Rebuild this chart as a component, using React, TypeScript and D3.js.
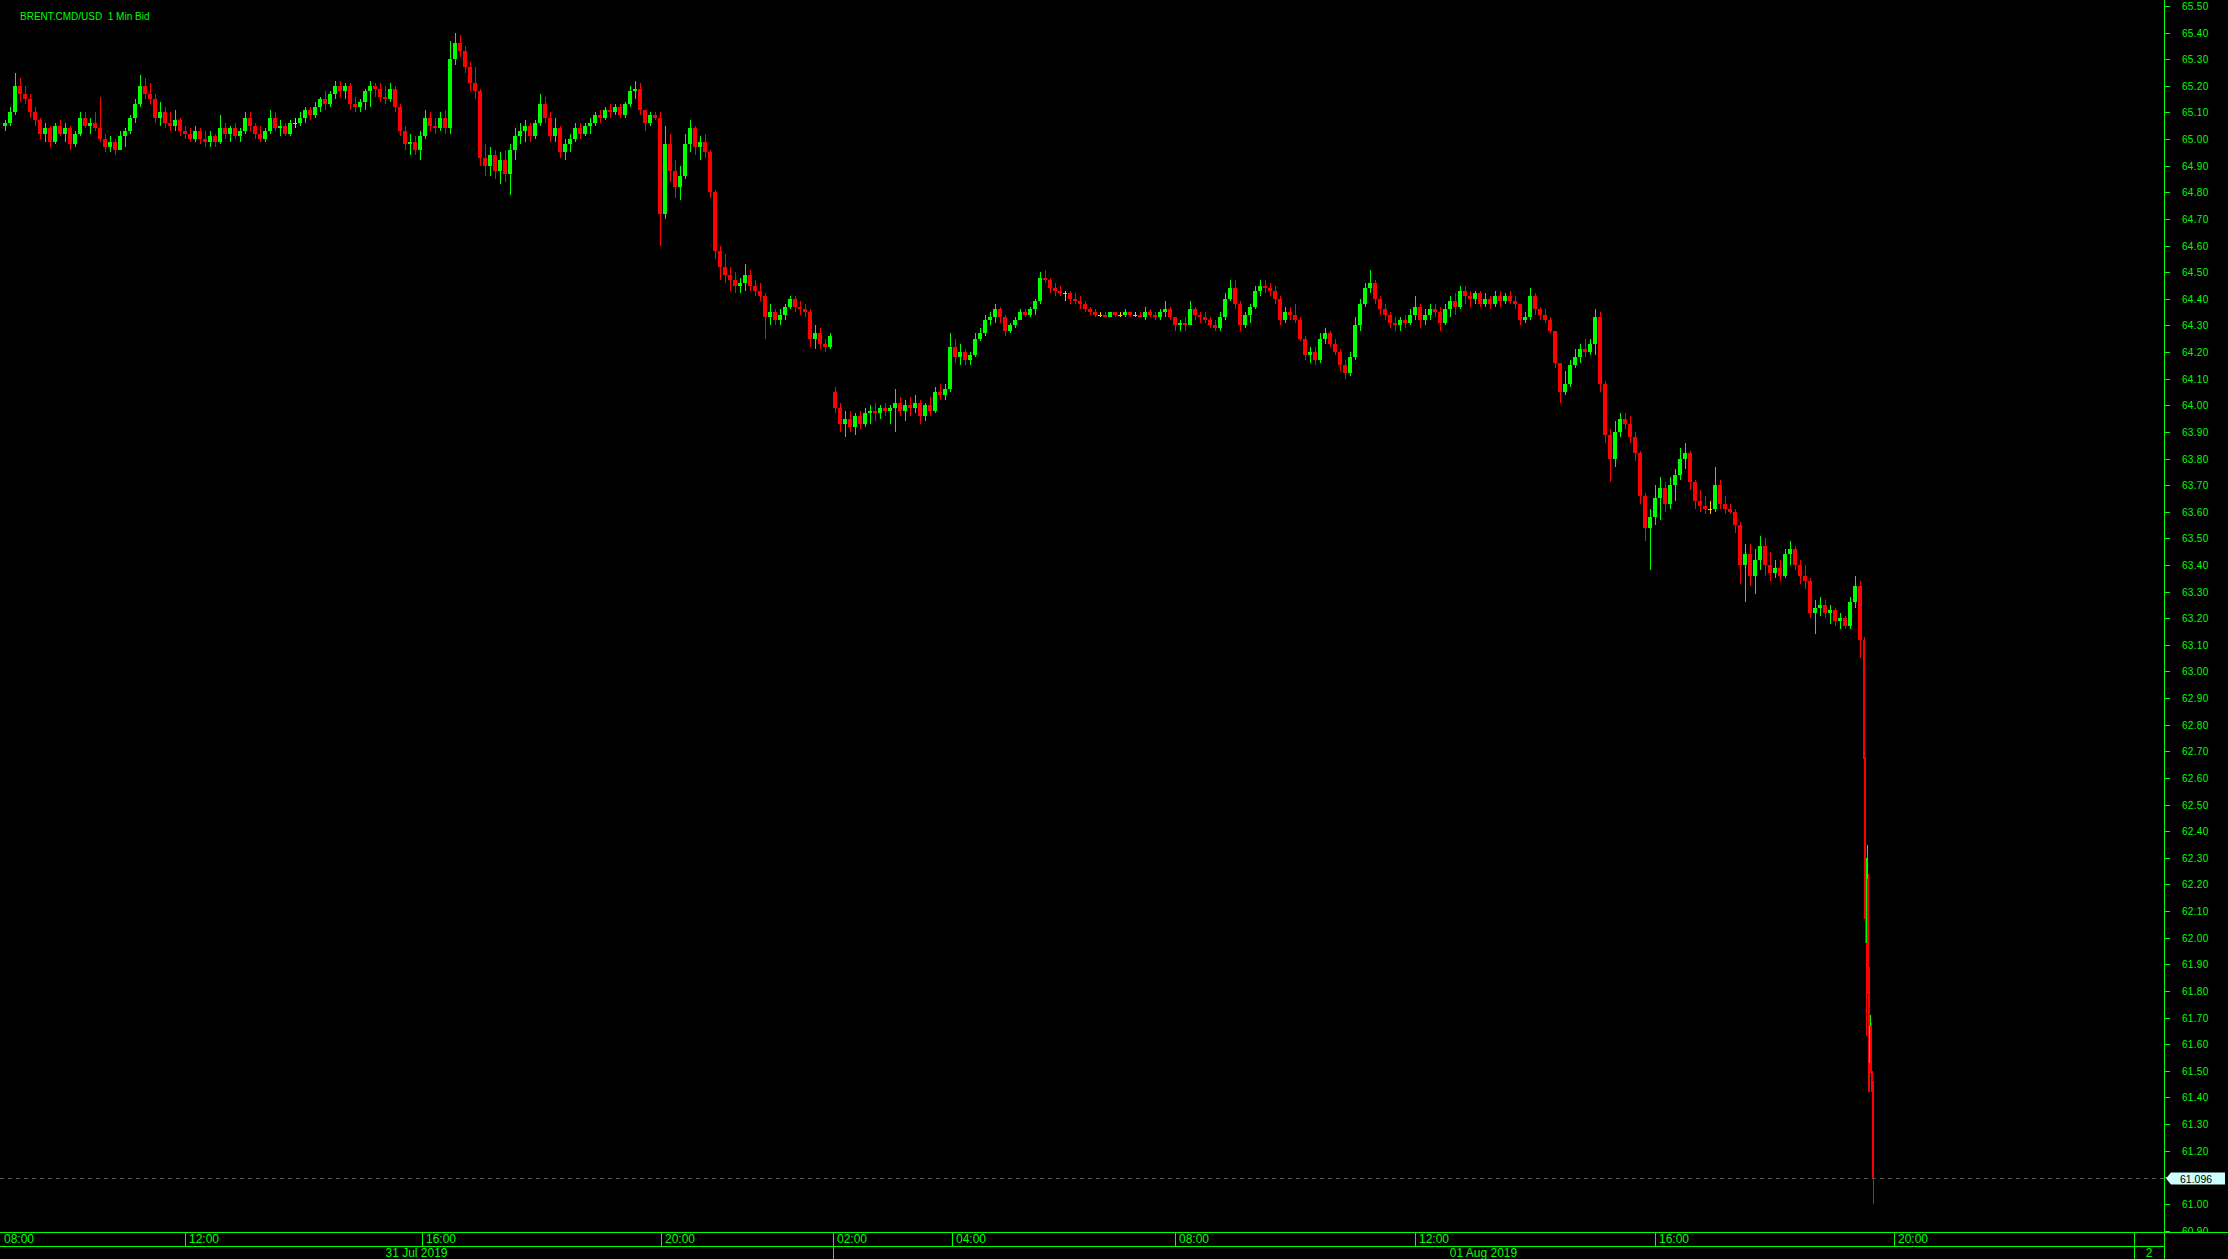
import React from 'react';
import * as d3 from 'd3';

// 1 minute = 1 slot on the x axis (closed hours collapsed)
// bars: [open, high, low, close]
type Bar = [number, number, number, number];

// 31 Jul, 5 minute bars from slot 3
const jul31Bars: Bar[] = [
  [65.05,65.07,65.03,65.06],[65.06,65.12,65.05,65.10],[65.10,65.25,65.09,65.20],[65.20,65.23,65.14,65.17],
  [65.17,65.20,65.13,65.15],[65.15,65.17,65.08,65.10],[65.10,65.12,65.05,65.07],[65.07,65.08,65.00,65.02],
  [65.02,65.06,64.99,65.04],[65.04,65.05,64.97,64.99],[64.99,65.06,64.98,65.05],[65.05,65.07,65.01,65.02],
  [65.02,65.06,64.99,65.04],[65.04,65.05,64.96,64.98],[64.98,65.03,64.97,65.02],[65.02,65.10,65.01,65.08],
  [65.08,65.10,65.04,65.05],[65.05,65.08,65.02,65.06],[65.06,65.10,65.03,65.04],[65.04,65.16,64.99,65.00],
  [65.00,65.02,64.95,64.97],[64.97,65.01,64.95,64.99],[64.99,65.00,64.94,64.96],[64.96,65.03,64.96,65.01],
  [65.01,65.04,64.97,65.03],[65.03,65.09,65.02,65.08],[65.08,65.15,65.06,65.13],[65.13,65.24,65.12,65.20],
  [65.20,65.23,65.15,65.17],[65.17,65.21,65.13,65.15],[65.15,65.17,65.06,65.08],[65.08,65.14,65.05,65.10],
  [65.10,65.12,65.04,65.06],[65.06,65.10,65.03,65.05],[65.05,65.11,65.03,65.07],[65.07,65.08,65.01,65.03],
  [65.03,65.05,65.00,65.02],[65.02,65.04,64.99,65.00],[65.00,65.05,64.99,65.03],[65.03,65.04,64.98,65.00],
  [65.00,65.03,64.97,64.99],[64.99,65.03,64.97,65.01],[65.01,65.02,64.97,64.99],[64.99,65.09,64.98,65.04],
  [65.04,65.06,65.00,65.02],[65.02,65.05,64.99,65.04],[65.04,65.06,65.00,65.01],[65.01,65.04,64.99,65.03],
  [65.03,65.10,65.02,65.08],[65.08,65.10,65.03,65.05],[65.05,65.06,65.00,65.02],[65.02,65.05,64.99,65.00],
  [65.00,65.04,64.99,65.03],[65.03,65.11,65.02,65.08],[65.08,65.10,65.03,65.04],[65.04,65.07,65.01,65.05],
  [65.05,65.06,65.01,65.02],[65.02,65.07,65.01,65.06],[65.06,65.08,65.04,65.06],[65.06,65.10,65.05,65.08],
  [65.08,65.12,65.06,65.11],[65.11,65.12,65.07,65.09],[65.09,65.14,65.08,65.12],[65.12,65.16,65.10,65.15],
  [65.15,65.18,65.11,65.13],[65.13,65.18,65.12,65.17],[65.17,65.22,65.15,65.20],[65.20,65.22,65.16,65.18],
  [65.18,65.21,65.15,65.20],[65.20,65.21,65.11,65.13],[65.13,65.16,65.10,65.12],[65.12,65.15,65.10,65.14],
  [65.14,65.19,65.11,65.18],[65.18,65.22,65.12,65.20],[65.20,65.21,65.16,65.19],[65.19,65.21,65.14,65.16],
  [65.16,65.20,65.13,65.15],[65.15,65.21,65.14,65.19],[65.19,65.20,65.10,65.12],[65.12,65.13,65.01,65.03],
  [65.03,65.05,64.96,64.98],[64.98,65.02,64.94,64.99],[64.99,65.01,64.94,64.96],[64.96,65.03,64.92,65.01],
  [65.01,65.11,65.00,65.08],[65.08,65.10,65.03,65.05],[65.05,65.08,65.02,65.04],[65.04,65.10,65.03,65.08],
  [65.08,65.11,65.02,65.04],[65.04,65.37,65.02,65.30],[65.30,65.40,65.28,65.36],[65.36,65.39,65.31,65.33],
  [65.33,65.35,65.25,65.27],[65.27,65.29,65.18,65.21],[65.21,65.27,65.15,65.18],[65.18,65.19,64.90,64.93],
  [64.93,64.98,64.86,64.90],[64.90,64.97,64.86,64.94],[64.94,64.96,64.85,64.88],[64.88,64.95,64.83,64.92],
  [64.92,64.96,64.84,64.87],[64.87,64.98,64.79,64.96],[64.96,65.04,64.92,65.01],[65.01,65.06,64.98,65.03],
  [65.03,65.07,64.99,65.05],[65.05,65.06,64.99,65.01],[65.01,65.07,65.00,65.06],[65.06,65.17,65.05,65.13],
  [65.13,65.16,65.06,65.08],[65.08,65.10,64.99,65.01],[65.01,65.08,64.99,65.04],[65.04,65.05,64.93,64.95],
  [64.95,65.00,64.92,64.98],[64.98,65.02,64.95,65.00],[65.00,65.06,64.99,65.04],[65.04,65.06,65.00,65.02],
  [65.02,65.06,65.01,65.05],[65.05,65.08,65.02,65.06],[65.06,65.10,65.05,65.09],[65.09,65.11,65.06,65.08],
  [65.08,65.12,65.07,65.11],[65.11,65.13,65.08,65.10],[65.10,65.13,65.09,65.12],[65.12,65.13,65.08,65.09],
  [65.09,65.14,65.08,65.13],[65.13,65.20,65.12,65.18],[65.18,65.22,65.15,65.19],[65.19,65.21,65.09,65.11],
  [65.11,65.11,65.03,65.06],[65.06,65.10,65.05,65.09],[65.09,65.10,65.07,65.08],[65.08,65.10,64.60,64.72],
  [64.72,65.05,64.70,64.98],[64.98,65.02,64.84,64.88],[64.88,64.92,64.78,64.82],[64.82,64.90,64.77,64.86],
  [64.86,65.02,64.85,64.98],[64.98,65.07,64.95,65.04],[65.04,65.05,64.94,64.97],[64.97,65.01,64.92,64.99],
  [64.99,65.02,64.93,64.95],[64.95,64.96,64.78,64.80],[64.80,64.81,64.55,64.58],[64.58,64.60,64.47,64.52],
  [64.52,64.57,64.46,64.49],[64.49,64.52,64.43,64.47],[64.47,64.50,64.42,64.45],[64.45,64.48,64.42,64.46],
  [64.46,64.53,64.43,64.49],[64.49,64.51,64.43,64.45],[64.45,64.47,64.41,64.43],[64.43,64.46,64.39,64.41],
  [64.41,64.42,64.25,64.33],[64.33,64.38,64.30,64.35],[64.35,64.36,64.30,64.32],[64.32,64.36,64.30,64.34],
  [64.34,64.38,64.32,64.37],[64.37,64.41,64.36,64.40],[64.40,64.41,64.35,64.37],[64.37,64.39,64.34,64.36],
  [64.36,64.38,64.33,64.35],[64.35,64.36,64.22,64.25],[64.25,64.30,64.21,64.27],[64.27,64.29,64.21,64.23],
  [64.23,64.25,64.20,64.22],[64.22,64.27,64.21,64.26],
];

// 01 Aug, 5 minute bars from slot 833
const aug1Bars: Bar[] = [
  [64.05,64.07,63.97,63.99],[63.99,64.01,63.90,63.93],[63.93,63.98,63.88,63.95],[63.95,63.98,63.90,63.92],
  [63.92,63.97,63.89,63.96],[63.96,63.98,63.91,63.93],[63.93,63.99,63.92,63.97],[63.97,64.00,63.93,63.98],
  [63.98,64.01,63.94,63.97],[63.97,64.00,63.95,63.99],[63.99,64.01,63.96,63.98],[63.98,64.00,63.93,63.99],
  [63.99,64.06,63.90,64.01],[64.01,64.03,63.96,63.98],[63.98,64.02,63.94,64.00],[64.00,64.03,63.96,63.99],
  [63.99,64.04,63.97,64.01],[64.01,64.02,63.93,63.96],[63.96,64.01,63.94,64.00],[64.00,64.03,63.96,63.98],
  [63.98,64.07,63.97,64.05],[64.05,64.08,64.02,64.04],[64.04,64.08,64.02,64.06],[64.06,64.27,64.05,64.22],
  [64.22,64.25,64.16,64.18],[64.18,64.23,64.15,64.20],[64.20,64.21,64.15,64.17],[64.17,64.20,64.15,64.19],
  [64.19,64.27,64.18,64.25],[64.25,64.29,64.24,64.27],[64.27,64.34,64.26,64.32],[64.32,64.35,64.30,64.33],
  [64.33,64.38,64.31,64.36],[64.36,64.37,64.31,64.33],[64.33,64.34,64.26,64.28],[64.28,64.31,64.27,64.30],
  [64.30,64.33,64.29,64.32],[64.32,64.36,64.32,64.35],[64.35,64.36,64.33,64.34],[64.34,64.37,64.33,64.36],
  [64.36,64.40,64.34,64.39],[64.39,64.50,64.38,64.48],[64.48,64.51,64.46,64.47],[64.47,64.48,64.42,64.44],
  [64.44,64.46,64.41,64.43],[64.43,64.45,64.41,64.42],[64.42,64.43,64.39,64.42],[64.42,64.43,64.38,64.40],
  [64.40,64.42,64.38,64.39],[64.39,64.41,64.36,64.38],[64.38,64.39,64.35,64.36],[64.36,64.37,64.34,64.35],
  [64.35,64.36,64.33,64.34],[64.34,64.35,64.33,64.34],[64.34,64.35,64.33,64.33],[64.33,64.35,64.33,64.35],
  [64.35,64.35,64.33,64.34],[64.34,64.35,64.33,64.34],[64.34,64.36,64.33,64.35],[64.35,64.35,64.33,64.34],
  [64.34,64.35,64.33,64.34],[64.34,64.35,64.33,64.33],[64.33,64.37,64.32,64.35],[64.35,64.36,64.33,64.34],
  [64.34,64.35,64.32,64.33],[64.33,64.36,64.32,64.35],[64.35,64.39,64.33,64.36],[64.36,64.37,64.32,64.33],
  [64.33,64.33,64.28,64.30],[64.30,64.32,64.28,64.31],[64.31,64.33,64.28,64.30],[64.30,64.39,64.30,64.36],
  [64.36,64.37,64.32,64.34],[64.34,64.35,64.31,64.33],[64.33,64.35,64.31,64.32],[64.32,64.33,64.29,64.30],
  [64.30,64.32,64.28,64.29],[64.29,64.35,64.28,64.33],[64.33,64.42,64.32,64.40],[64.40,64.47,64.39,64.44],
  [64.44,64.47,64.36,64.38],[64.38,64.39,64.28,64.30],[64.30,64.35,64.29,64.34],[64.34,64.38,64.31,64.37],
  [64.37,64.45,64.36,64.43],[64.43,64.47,64.41,64.45],[64.45,64.47,64.42,64.44],[64.44,64.46,64.41,64.43],
  [64.43,64.45,64.38,64.40],[64.40,64.41,64.30,64.32],[64.32,64.37,64.31,64.35],[64.35,64.37,64.32,64.34],
  [64.34,64.38,64.31,64.32],[64.32,64.33,64.24,64.25],[64.25,64.26,64.17,64.19],[64.19,64.22,64.16,64.20],
  [64.20,64.22,64.15,64.17],[64.17,64.27,64.16,64.25],[64.25,64.29,64.23,64.27],[64.27,64.28,64.22,64.23],
  [64.23,64.25,64.19,64.20],[64.20,64.21,64.13,64.15],[64.15,64.17,64.10,64.12],[64.12,64.20,64.11,64.18],
  [64.18,64.33,64.17,64.30],[64.30,64.40,64.28,64.38],[64.38,64.46,64.37,64.44],[64.44,64.51,64.42,64.46],
  [64.46,64.47,64.38,64.40],[64.40,64.41,64.34,64.36],[64.36,64.38,64.32,64.34],[64.34,64.35,64.29,64.31],
  [64.31,64.33,64.28,64.30],[64.30,64.33,64.28,64.32],[64.32,64.34,64.29,64.31],[64.31,64.36,64.30,64.34],
  [64.34,64.41,64.32,64.37],[64.37,64.38,64.29,64.32],[64.32,64.36,64.30,64.34],[64.34,64.38,64.32,64.36],
  [64.36,64.38,64.33,64.35],[64.35,64.37,64.28,64.31],[64.31,64.38,64.30,64.36],[64.36,64.41,64.33,64.39],
  [64.39,64.42,64.34,64.37],[64.37,64.45,64.36,64.43],[64.43,64.45,64.38,64.41],[64.41,64.43,64.37,64.40],
  [64.40,64.43,64.38,64.42],[64.42,64.43,64.37,64.38],[64.38,64.42,64.37,64.40],[64.40,64.41,64.36,64.38],
  [64.38,64.43,64.37,64.41],[64.41,64.43,64.37,64.39],[64.39,64.42,64.38,64.41],[64.41,64.43,64.38,64.39],
  [64.39,64.41,64.36,64.38],[64.38,64.38,64.30,64.32],[64.32,64.35,64.31,64.33],[64.33,64.44,64.32,64.41],
  [64.41,64.42,64.34,64.36],[64.36,64.37,64.32,64.34],[64.34,64.36,64.31,64.32],[64.32,64.33,64.27,64.28],
  [64.28,64.28,64.14,64.16],[64.16,64.16,64.01,64.05],[64.05,64.13,64.04,64.08],[64.08,64.17,64.07,64.15],
  [64.15,64.21,64.14,64.18],[64.18,64.23,64.16,64.21],[64.21,64.25,64.18,64.20],[64.20,64.25,64.19,64.23],
  [64.23,64.36,64.19,64.33],[64.33,64.35,64.05,64.08],[64.08,64.09,63.86,63.89],[63.89,63.91,63.71,63.80],
  [63.80,63.94,63.77,63.90],[63.90,63.97,63.88,63.95],[63.95,63.97,63.91,63.93],[63.93,63.96,63.86,63.88],
  [63.88,63.90,63.79,63.82],[63.82,63.83,63.63,63.66],[63.66,63.67,63.49,63.54],[63.54,63.61,63.38,63.58],
  [63.58,63.70,63.55,63.65],[63.65,63.73,63.57,63.69],[63.69,63.71,63.60,63.63],[63.63,63.73,63.61,63.70],
  [63.70,63.76,63.64,63.74],[63.74,63.84,63.72,63.80],[63.80,63.86,63.76,63.82],[63.82,63.83,63.68,63.71],
  [63.71,63.72,63.61,63.64],[63.64,63.68,63.60,63.62],[63.62,63.66,63.59,63.61],[63.61,63.64,63.59,63.61],
  [63.61,63.77,63.60,63.70],[63.70,63.72,63.61,63.63],[63.63,63.66,63.59,63.61],[63.61,63.63,63.59,63.60],
  [63.60,63.61,63.52,63.55],[63.55,63.56,63.33,63.40],[63.40,63.48,63.26,63.44],[63.44,63.48,63.32,63.36],
  [63.36,63.46,63.29,63.42],[63.42,63.51,63.38,63.47],[63.47,63.50,63.36,63.40],[63.40,63.45,63.34,63.37],
  [63.37,63.42,63.35,63.39],[63.39,63.42,63.34,63.36],[63.36,63.46,63.35,63.44],[63.44,63.49,63.40,63.46],
  [63.46,63.47,63.38,63.40],[63.40,63.42,63.33,63.36],[63.36,63.40,63.31,63.34],[63.34,63.35,63.20,63.22],
  [63.22,63.27,63.14,63.24],[63.24,63.28,63.21,63.25],[63.25,63.27,63.20,63.22],[63.22,63.25,63.18,63.23],
  [63.23,63.24,63.17,63.19],[63.19,63.22,63.16,63.20],[63.20,63.21,63.16,63.17],[63.17,63.28,63.16,63.26],
  [63.26,63.36,63.24,63.32],[63.32,63.34,63.05,63.12],
];

// final sell-off, 1 minute bars from slot 1863
const crashBars: Bar[] = [
  [63.12,63.13,62.64,62.67],[62.67,62.68,62.05,62.07],[62.07,62.10,61.63,61.98],[61.98,62.35,61.97,62.30],
  [62.22,62.24,61.42,61.79],[61.79,61.89,61.42,61.53],[61.53,61.71,61.50,61.67],[61.67,61.68,61.42,61.49],
  [61.49,61.50,61.43,61.45],[61.45,61.46,61.00,61.096],
];

const lastPrice = 61.096;

const timeTicks = [
  { slot: 0, label: '08:00' }, { slot: 185, label: '12:00' }, { slot: 422, label: '16:00' },
  { slot: 661, label: '20:00' }, { slot: 833, label: '02:00' }, { slot: 952, label: '04:00' },
  { slot: 1175, label: '08:00' }, { slot: 1415, label: '12:00' }, { slot: 1655, label: '16:00' },
  { slot: 1894, label: '20:00' },
];
const days = [
  { slot: 0, label: '31 Jul 2019' }, { slot: 833, label: '01 Aug 2019' }, { slot: 2134, label: '2' },
];

const W = 2228;
const H = 1259;
const plotRight = 2164;
const axisTop = 1232;
const axisMid = 1246;

const GREEN = '#00ff00';
const UP = '#00ff00';
const DOWN = '#ff0000';
const FLAT = '#ffc800';
const FONT = "'Liberation Sans', Arial, sans-serif";
const NARROW = "'Liberation Sans Narrow', 'Liberation Sans', Arial, sans-serif";

const App = () => {
  const x = d3.scaleLinear().domain([0, plotRight]).range([0, plotRight]);
  const y = d3.scaleLinear().domain([60.9, 65.5]).range([1230.5, 6]);
  const fmt = d3.format('.2f');
  const priceTicks = d3.range(0, 47).map(i => +(60.9 + i * 0.1).toFixed(2));

  const candles = [
    ...jul31Bars.map((b, i) => ({ slot: 3 + i * 5, w: 4, b })),
    ...aug1Bars.map((b, i) => ({ slot: 833 + i * 5, w: 4, b })),
    ...crashBars.map((b, i) => ({ slot: 1863 + i, w: 2, b })),
  ];

  const dayEnds = days.map((d, i) => (i < days.length - 1 ? days[i + 1].slot : plotRight));
  const yLast = Math.round(y(lastPrice)) + 0.5;

  return (
    <svg width={W} height={H} style={{ position: 'absolute', left: 0, top: 0, display: 'block', background: '#000' }}>
      <defs>
        <clipPath id="priceClip">
          <rect x={plotRight} y={0} width={W - plotRight} height={axisTop} />
        </clipPath>
        <clipPath id="plotClip">
          <rect x={0} y={0} width={plotRight} height={axisTop} />
        </clipPath>
      </defs>
      <rect width={W} height={H} fill="#000" />

      <text x={20} y={20} fill={GREEN} fontFamily={FONT} fontSize={10} style={{ whiteSpace: 'pre' }}>
        {'BRENT.CMD/USD  1 Min Bid'}
      </text>

      {/* last price line */}
      <line x1={0} x2={plotRight} y1={yLast} y2={yLast} stroke="#5a5a5a" strokeDasharray="4 4" />

      <g clipPath="url(#plotClip)" shapeRendering="crispEdges">
        {candles.map((d, i) => {
          const [o, h, l, c] = d.b;
          const x0 = Math.round(x(d.slot));
          const color = c > o ? UP : c < o ? DOWN : FLAT;
          const top = y(Math.max(o, c));
          const bot = y(Math.min(o, c));
          return (
            <g key={i} fill={color}>
              <rect x={x0 + Math.floor(d.w / 2)} y={y(h)} width={1} height={Math.max(1, y(l) - y(h))} />
              <rect x={x0} y={top} width={d.w} height={Math.max(1, bot - top)} />
            </g>
          );
        })}
      </g>

      {/* price axis */}
      <line x1={plotRight + 0.5} x2={plotRight + 0.5} y1={0} y2={H} stroke={GREEN} />
      <g clipPath="url(#priceClip)">
        {priceTicks.map(p => (
          <g key={p}>
            <line x1={plotRight} x2={plotRight + 6} y1={Math.round(y(p)) + 0.5} y2={Math.round(y(p)) + 0.5} stroke={GREEN} />
            <text x={plotRight + 18} y={y(p) + 4} fill={GREEN} fontFamily={FONT} fontSize={10} letterSpacing={0.3}>
              {fmt(p)}
            </text>
          </g>
        ))}
      </g>

      {/* last price marker */}
      <path
        d={`M${plotRight + 2},${yLast} L${plotRight + 7},${yLast - 6} H${W - 3} V${yLast + 6} H${plotRight + 7} Z`}
        fill="#ccffff"
      />
      <text x={plotRight + 16} y={yLast + 4} fill="#000" fontFamily={FONT} fontSize={10.5}>
        {lastPrice.toFixed(3)}
      </text>

      {/* time axis */}
      <line x1={0} x2={W} y1={axisTop + 0.5} y2={axisTop + 0.5} stroke={GREEN} />
      <line x1={0} x2={plotRight} y1={axisMid + 0.5} y2={axisMid + 0.5} stroke={GREEN} />
      {timeTicks.map(t => (
        <g key={t.slot}>
          {t.slot > 0 && (
            <line x1={Math.round(x(t.slot)) + 0.5} x2={Math.round(x(t.slot)) + 0.5} y1={axisTop} y2={axisMid} stroke={GREEN} />
          )}
          <text x={x(t.slot) + 4} y={axisTop + 11} fill={GREEN} fontFamily={NARROW} fontSize={12}>
            {t.label}
          </text>
        </g>
      ))}
      {days.map((d, i) => (
        <g key={d.label}>
          {d.slot > 0 && (
            <line x1={Math.round(x(d.slot)) + 0.5} x2={Math.round(x(d.slot)) + 0.5} y1={axisTop} y2={H} stroke={GREEN} />
          )}
          <text
            x={(x(d.slot) + x(dayEnds[i])) / 2}
            y={axisMid + 11}
            fill={GREEN}
            fontFamily={NARROW}
            fontSize={12}
            textAnchor="middle"
          >
            {d.label}
          </text>
        </g>
      ))}
    </svg>
  );
};

export default App;
